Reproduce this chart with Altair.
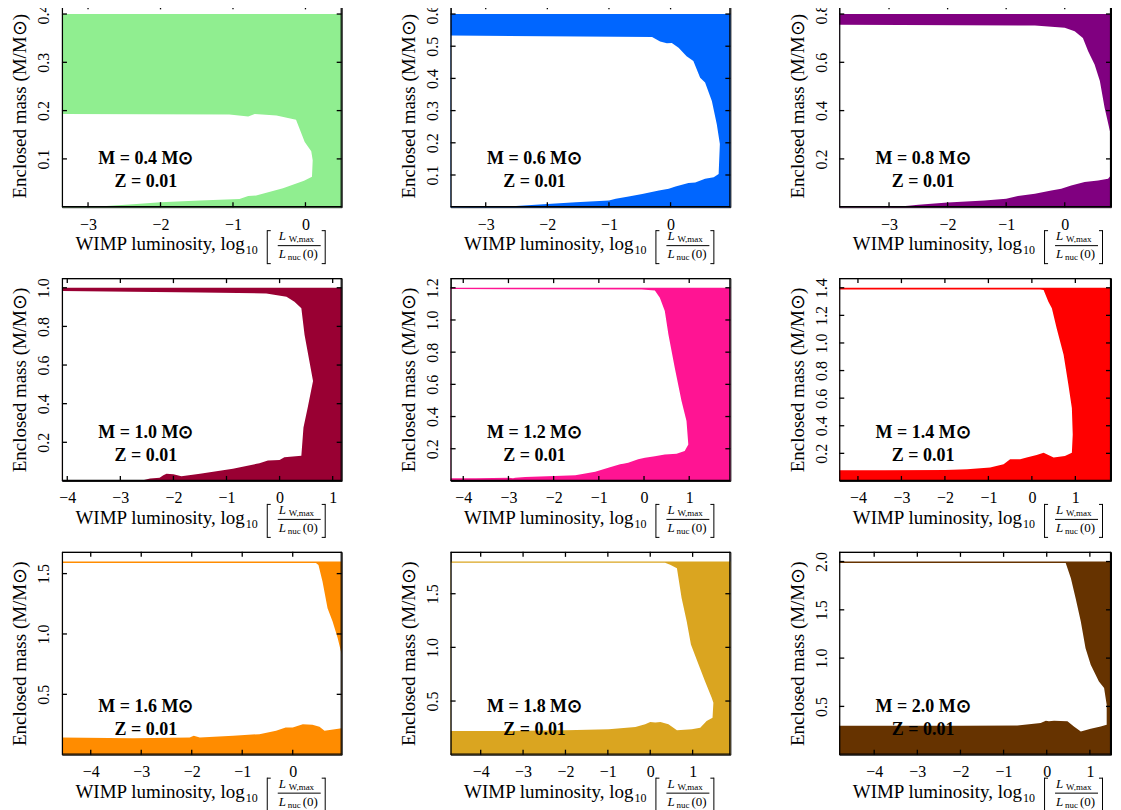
import altair as alt
import pandas as pd

FONT = "Liberation Serif"
H = 203
W_COLS = [280, 280, 272]

# ---------------- data ----------------
MASSES = [0.4, 0.6, 0.8, 1.0, 1.2, 1.4, 1.6, 1.8, 2.0]
Y_MAX = [0.42, 0.63, 0.84, 1.05, 1.26, 1.47, 1.68, 1.89, 2.10]
COLORS = ["#90EE90", "#0066FF", "#800080", "#990033", "#FF1493",
          "#FF0000", "#FF8C00", "#DAA520", "#663300"]
MASS_LABELS = ["M = 0.4 M⊙", "M = 0.6 M⊙", "M = 0.8 M⊙", "M = 1.0 M⊙", "M = 1.2 M⊙",
               "M = 1.4 M⊙", "M = 1.6 M⊙", "M = 1.8 M⊙", "M = 2.0 M⊙"]
Z_LABEL = "Z = 0.01"
Y_TITLE = "Enclosed mass (M/M⊙)"

X_DOMAINS = [[-3.36, 0.5], [-3.57, 0.97], [-3.85, 0.79],
             [-4.1, 1.17], [-4.28, 1.91], [-4.43, 1.82],
             [-4.57, 0.97], [-4.71, 1.89], [-4.81, 1.49]]
X_TICKS = [[-3, -2, -1, 0], [-3, -2, -1, 0], [-3, -2, -1, 0],
           [-4, -3, -2, -1, 0, 1], [-4, -3, -2, -1, 0, 1], [-4, -3, -2, -1, 0, 1],
           [-4, -3, -2, -1, 0], [-4, -3, -2, -1, 0, 1], [-4, -3, -2, -1, 0, 1]]
Y_TICKS = [[0.1, 0.2, 0.3, 0.4],
           [0.1, 0.2, 0.3, 0.4, 0.5, 0.6],
           [0.2, 0.4, 0.6, 0.8],
           [0.2, 0.4, 0.6, 0.8, 1.0],
           [0.2, 0.4, 0.6, 0.8, 1.0, 1.2],
           [0.2, 0.4, 0.6, 0.8, 1.0, 1.2, 1.4],
           [0.5, 1.0, 1.5],
           [0.5, 1.0, 1.5],
           [0.5, 1.0, 1.5, 2.0]]

# radiative (non-convective) zone outlines: top boundary left->right, then bottom boundary right->left
RAD_X_04 = [-3.36, -1.05, -0.79, -0.70, -0.4, -0.13, -0.01, 0.08, 0.10, 0.09, -0.02, -0.31, -0.68,
            -0.79, -0.91, -1.46, -2.0, -2.38, -2.8, -3.36]
RAD_Y_04 = [0.193, 0.192, 0.188, 0.193, 0.190, 0.181, 0.135, 0.116, 0.097, 0.063, 0.055, 0.039, 0.024,
            0.023, 0.017, 0.014, 0.010, 0.006, 0.002, 0.0]
RAD_X_06 = [-3.57, -0.30, -0.17, -0.06, 0.02, 0.13, 0.26, 0.37, 0.48, 0.56, 0.67, 0.75, 0.80, 0.78,
            0.70, 0.56, 0.40, 0.29, 0.08, -0.03, -0.19, -0.46, -0.68, -0.89, -1.0, -1.54, -2.0,
            -2.51, -2.89, -3.57]
RAD_Y_06 = [0.533, 0.529, 0.515, 0.509, 0.510, 0.495, 0.469, 0.454, 0.402, 0.387, 0.330, 0.258, 0.196,
            0.103, 0.093, 0.088, 0.077, 0.075, 0.064, 0.057, 0.052, 0.041, 0.033, 0.026, 0.021, 0.015,
            0.010, 0.004, 0.001, 0.0]
RAD_X_08 = [-3.85, -0.51, 0.0, 0.17, 0.31, 0.40, 0.51, 0.60, 0.68, 0.77, 0.81, 0.86, 0.81, 0.74, 0.57,
            0.34, 0.11, -0.06, -0.23, -0.51, -0.80, -1.0, -1.37, -2.0, -2.5, -2.67, -3.0, -3.85]
RAD_Y_08 = [0.756, 0.752, 0.743, 0.729, 0.701, 0.646, 0.591, 0.523, 0.413, 0.317, 0.276, 0.2, 0.138,
            0.118, 0.111, 0.104, 0.090, 0.076, 0.069, 0.056, 0.046, 0.035, 0.028, 0.019, 0.010, 0.006,
            0.0, 0.0]
RAD_X_10 = [-4.1, -1.5, -0.25, 0.13, 0.28, 0.41, 0.47, 0.63, 0.53, 0.45, 0.41, 0.09, 0.0, -0.22, -0.38,
            -0.88, -1.5, -1.85, -2.0, -2.13, -2.19, -2.26, -2.44, -2.63, -4.1]
RAD_Y_10 = [0.983, 0.976, 0.971, 0.954, 0.928, 0.894, 0.757, 0.517, 0.38, 0.277, 0.131, 0.123, 0.109,
            0.106, 0.092, 0.063, 0.037, 0.024, 0.034, 0.037, 0.029, 0.017, 0.012, 0.0, 0.0]
RAD_X_12 = [-4.28, -0.05, 0.24, 0.35, 0.46, 0.54, 0.68, 0.83, 0.94, 0.98, 0.90, 0.72, 0.46, 0.24, 0.02,
            -0.13, -0.35, -0.46, -0.53, -0.79, -1.08, -1.52, -1.98, -2.63, -2.85, -2.90, -2.99, -3.72,
            -4.28]
RAD_Y_12 = [1.192, 1.19, 1.183, 1.138, 1.055, 0.91, 0.703, 0.496, 0.372, 0.227, 0.186, 0.169, 0.165,
            0.154, 0.144, 0.134, 0.113, 0.107, 0.103, 0.082, 0.057, 0.036, 0.030, 0.024, 0.020, 0.016,
            0.020, 0.016, 0.016]
RAD_X_14 = [-4.43, 0.19, 0.27, 0.38, 0.46, 0.57, 0.73, 0.84, 0.92, 0.94, 0.92, 0.76, 0.50, 0.27, 0.11,
            -0.12, -0.27, -0.50, -0.65, -0.96, -1.49, -1.99, -3.41, -4.43]
RAD_Y_14 = [1.387, 1.387, 1.383, 1.299, 1.251, 1.106, 0.914, 0.698, 0.529, 0.337, 0.205, 0.181, 0.169,
            0.205, 0.188, 0.169, 0.157, 0.157, 0.121, 0.097, 0.085, 0.080, 0.077, 0.077]
RAD_X_16 = [-4.57, 0.46, 0.51, 0.59, 0.69, 0.79, 0.89, 0.97, 0.97, 0.63, 0.53, 0.39, 0.20, 0.0, -0.14,
            -0.33, -0.66, -1.18, -1.84, -1.96, -2.04, -3.16, -4.57]
RAD_Y_16 = [1.588, 1.588, 1.571, 1.434, 1.214, 1.104, 0.967, 0.83, 0.22, 0.198, 0.231, 0.247, 0.253,
            0.225, 0.225, 0.198, 0.170, 0.157, 0.143, 0.157, 0.143, 0.137, 0.143]
RAD_X_18 = [-4.71, 0.35, 0.47, 0.63, 0.74, 0.86, 0.96, 1.14, 1.29, 1.45, 1.49, 1.47, 1.33, 1.18, 0.98,
            0.63, 0.43, 0.24, 0.12, 0.0, -0.12, -0.35, -0.98, -2.0, -3.33, -4.71]
RAD_Y_18 = [1.788, 1.788, 1.769, 1.738, 1.46, 1.243, 1.026, 0.841, 0.686, 0.531, 0.485, 0.345, 0.314,
            0.252, 0.237, 0.228, 0.283, 0.305, 0.299, 0.305, 0.283, 0.259, 0.237, 0.228, 0.221, 0.221]
RAD_X_20 = [-4.81, 0.44, 0.56, 0.67, 0.79, 0.90, 1.02, 1.21, 1.33, 1.39, 1.39, 1.25, 1.02, 0.79, 0.63,
            0.48, 0.17, 0.05, -0.02, -0.14, -0.68, -1.99, -4.81]
RAD_Y_20 = [1.986, 1.986, 1.828, 1.621, 1.379, 1.103, 0.931, 0.759, 0.69, 0.517, 0.310, 0.293, 0.269,
            0.241, 0.293, 0.345, 0.352, 0.345, 0.352, 0.328, 0.303, 0.30, 0.30]

RAD_X = [RAD_X_04, RAD_X_06, RAD_X_08, RAD_X_10, RAD_X_12, RAD_X_14, RAD_X_16, RAD_X_18, RAD_X_20]
RAD_Y = [RAD_Y_04, RAD_Y_06, RAD_Y_08, RAD_Y_10, RAD_Y_12, RAD_Y_14, RAD_Y_16, RAD_Y_18, RAD_Y_20]

XT_MAIN = "WIMP luminosity, log"
XT_SUB = "10"
XT_NUM, XT_NUM_SUB = "L", "W,max"
XT_DEN, XT_DEN_SUB, XT_DEN_TAIL = "L", "nuc", "(0)"


def txt(s, x, y, size, align="left", style="normal", weight="normal", baseline="alphabetic"):
    return alt.Chart(pd.DataFrame({"t": [s]})).mark_text(
        font=FONT, fontSize=size, fontStyle=style, fontWeight=weight,
        align=align, baseline=baseline, color="black"
    ).encode(text="t:N", x=alt.value(x), y=alt.value(y))


def seg(x1, y1, x2, y2, width=1.0):
    return alt.Chart(pd.DataFrame({"a": [0]})).mark_rule(color="black", strokeWidth=width).encode(
        x=alt.value(x1), y=alt.value(y1), x2=alt.value(x2), y2=alt.value(y2))


def panel(i):
    W = W_COLS[i % 3]
    M = MASSES[i]
    xmin, xmax = X_DOMAINS[i]
    xs = alt.Scale(domain=[xmin, xmax], nice=False, zero=False)
    ys = alt.Scale(domain=[0, Y_MAX[i]], nice=False, zero=False)
    xaxis = alt.Axis(values=X_TICKS[i], format="d", title=None, ticks=False, domain=False,
                     grid=False, labelFontSize=16, labelPadding=9, labelFont=FONT,
                     labelColor="black", labelFlush=False, labelOverlap=False)
    yaxis = alt.Axis(values=Y_TICKS[i], format=".1f", title=Y_TITLE, ticks=False, domain=False,
                     grid=False, labelAngle=270, labelAlign="center", labelBaseline="alphabetic",
                     labelPadding=13, labelFontSize=16, labelFont=FONT, labelColor="black",
                     labelFlush=False, labelOverlap=False, titleFont=FONT, titleFontSize=19,
                     titleFontWeight="normal", titleColor="black", titlePadding=6)

    def X(f):
        return alt.X(f, type="quantitative", scale=xs, axis=xaxis)

    def Y(f):
        return alt.Y(f, type="quantitative", scale=ys, axis=yaxis)

    rect = alt.Chart(pd.DataFrame({"x": [xmin], "x2": [xmax], "y": [0.0], "y2": [M]})).mark_rect(
        color=COLORS[i]).encode(x=X("x"), x2="x2", y=Y("y"), y2="y2")

    poly_df = pd.DataFrame({"x": RAD_X[i], "y": RAD_Y[i], "i": list(range(len(RAD_X[i])))})
    poly = alt.Chart(poly_df).mark_line(filled=True, color="white", clip=True,
                                        interpolate="linear").encode(
        x=X("x"), y=Y("y"), order=alt.Order("i:Q"))

    xt = pd.DataFrame({"x": X_TICKS[i]})
    yt = pd.DataFrame({"y": Y_TICKS[i]})
    tk = dict(color="black", strokeWidth=1.3)
    t_bottom = alt.Chart(xt).mark_rule(**tk).encode(x=X("x"), y=alt.value(H), y2=alt.value(H - 5))
    t_top = alt.Chart(xt).mark_rule(**tk).encode(x=X("x"), y=alt.value(0), y2=alt.value(5))
    t_left = alt.Chart(yt).mark_rule(**tk).encode(y=Y("y"), x=alt.value(0), x2=alt.value(5))
    t_right = alt.Chart(yt).mark_rule(**tk).encode(y=Y("y"), x=alt.value(W), x2=alt.value(W - 5))

    frame = [
        seg(0, 0.5, W, 0.5, 1.2), seg(0, H - 0.5, W, H - 0.5, 1.2),
        seg(0.5, 0, 0.5, H, 1.2), seg(W - 0.5, 0, W - 0.5, H, 1.2),
    ]

    ann_m = txt(MASS_LABELS[i], 84, 155, 18, align="center", weight="bold", baseline="middle")
    ann_z = txt(Z_LABEL, 84, 178, 18, align="center", weight="bold", baseline="middle")

    b = H
    title_parts = [
        txt(XT_MAIN, 183, b + 43, 19, align="right"),
        txt(XT_SUB, 184, b + 47, 12),
        txt(XT_NUM, 217, b + 33, 13, style="italic"),
        txt(XT_NUM_SUB, 227, b + 35, 9),
        txt(XT_DEN, 217, b + 51, 13, style="italic"),
        txt(XT_DEN_SUB, 226, b + 53, 9),
        txt(XT_DEN_TAIL, 241, b + 51, 13),
        seg(216, b + 38.5, 259, b + 38.5),
        seg(205.5, b + 23, 205.5, b + 57), seg(205.5, b + 23.5, 209, b + 23.5),
        seg(205.5, b + 56.5, 209, b + 56.5),
        seg(263.5, b + 23, 263.5, b + 57), seg(260, b + 23.5, 263.5, b + 23.5),
        seg(260, b + 56.5, 263.5, b + 56.5),
    ]

    return alt.layer(rect, poly, t_bottom, t_top, t_left, t_right, ann_m, ann_z,
                     *title_parts, *frame).properties(width=W, height=H)


panels = [panel(i) for i in range(9)]

chart = alt.concat(*panels, columns=3).properties(
    spacing=alt.RowColnumber(row=71, column=109),
    bounds="flush",
    background="white",
    padding={"left": 2, "top": -6, "right": 0, "bottom": 0},
).configure_view(stroke="black", strokeWidth=1)

chart.save("out.html", embed_options={"renderer": "svg", "actions": False})
